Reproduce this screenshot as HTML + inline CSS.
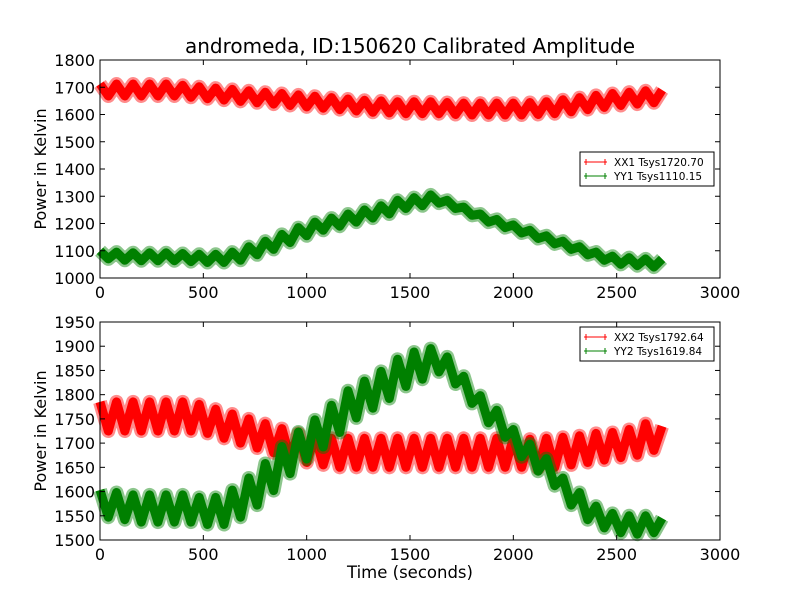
<!DOCTYPE html>
<html><head><meta charset="utf-8"><style>
body{margin:0;background:#fff;}
svg{display:block;font-family:"DejaVu Sans","Liberation Sans",sans-serif;}
</style></head><body>
<svg id="chart" width="800" height="600" viewBox="0 0 800 600">
<rect width="800" height="600" fill="#fff"/>
<text x="410" y="53" font-size="20" text-anchor="middle">andromeda, ID:150620 Calibrated Amplitude</text>
<g id="top"></g>
<g id="bot"></g>
<text x="410" y="578" font-size="16.5" text-anchor="middle">Time (seconds)</text>
</svg>
<script>
const xTicks=[0,500,1000,1500,2000,2500,3000];
const topYTicks=[1000,1100,1200,1300,1400,1500,1600,1700,1800];
const botYTicks=[1500,1550,1600,1650,1700,1750,1800,1850,1900,1950];
const cyclePeriod=80;
const xx1Peaks=[1712,1712,1712,1712,1712,1707,1702,1697,1692,1687,1682,1677,1672,1667,1662,1657,1652,1650,1647,1647,1647,1644,1642,1642,1642,1642,1644,1647,1654,1662,1670,1677,1682,1687,1690];
const xx1Troughs=[1668,1668,1668,1668,1668,1663,1658,1653,1648,1643,1638,1633,1628,1623,1618,1613,1608,1606,1603,1603,1603,1600,1598,1598,1598,1598,1600,1603,1610,1618,1626,1633,1638,1643,1646];
const yy1Peaks=[1100,1095,1093,1093,1093,1090,1087,1087,1095,1115,1135,1160,1185,1205,1220,1235,1250,1265,1285,1295,1305,1285,1260,1235,1215,1195,1175,1155,1135,1115,1095,1080,1075,1070,1070];
const yy1Troughs=[1070,1065,1063,1063,1063,1060,1057,1057,1065,1085,1105,1130,1155,1175,1190,1205,1220,1235,1255,1265,1275,1255,1230,1205,1185,1165,1145,1125,1105,1085,1065,1050,1045,1040,1040];
const xx2Peaks=[1785,1785,1785,1785,1785,1785,1780,1770,1760,1750,1740,1730,1720,1715,1710,1710,1710,1710,1710,1710,1710,1710,1710,1710,1710,1710,1708,1710,1712,1715,1720,1722,1728,1740,1735];
const xx2Troughs=[1725,1725,1725,1725,1725,1725,1720,1710,1700,1690,1680,1670,1660,1655,1650,1650,1650,1650,1650,1650,1650,1650,1650,1650,1650,1650,1648,1650,1655,1660,1665,1670,1675,1685,1685];
const yy2Peaks=[1603,1598,1593,1593,1593,1593,1588,1588,1603,1628,1658,1693,1723,1748,1778,1808,1828,1848,1873,1888,1895,1878,1838,1798,1768,1728,1698,1668,1628,1598,1570,1555,1550,1550,1545];
const yy2Troughs=[1547,1542,1537,1537,1537,1537,1532,1532,1547,1572,1602,1637,1667,1692,1722,1752,1772,1792,1817,1832,1847,1822,1782,1742,1712,1672,1642,1612,1572,1542,1525,1515,1512,1515,1515];
const tMax=2720;

const NS="http://www.w3.org/2000/svg";
function mk(tag,attrs,parent){const e=document.createElementNS(NS,tag);for(const k in attrs)e.setAttribute(k,attrs[k]);parent.appendChild(e);return e;}

function panel(g,top,bottom,yMin,yMax,yTicks,series,legend,legendY){
  const L=100,R=720;
  const xs=v=>L+(v-0)/(3000-0)*(R-L);
  const ys=v=>bottom-(v-yMin)/(yMax-yMin)*(bottom-top);
  series.forEach(s=>{
    const pts=[];
    for(let i=0;i<s.peaks.length;i++){
      const t=i*cyclePeriod;
      if(t<=tMax)pts.push([t,s.peaks[i]]);
      const t2=t+cyclePeriod/2;
      if(t2<=tMax&&i<s.troughs.length)pts.push([t2,s.troughs[i]]);
    }
    const d=pts.map(p=>xs(p[0]).toFixed(1)+","+ys(p[1]).toFixed(1)).join(" ");
    const pl2=mk("polyline",{points:d,fill:"none",stroke:s.color,"stroke-width":14,"stroke-opacity":0.45,"stroke-linejoin":"round"},g);
    
    
    const pl=mk("polyline",{points:d,fill:"none",stroke:s.color,"stroke-width":9,"stroke-linejoin":"round"},g);
    
    
  });
  const frame=mk("rect",{x:L,y:top,width:R-L,height:bottom-top,fill:"none",stroke:"#000","stroke-width":1},g);
  
  
  xTicks.forEach(v=>{
    const x=xs(v);
    mk("line",{x1:x,y1:bottom,x2:x,y2:bottom-5,stroke:"#000"},g);
    mk("line",{x1:x,y1:top,x2:x,y2:top+5,stroke:"#000"},g);
    const t=mk("text",{x:x,y:bottom+20,"font-size":16,"text-anchor":"middle"},g);
    t.textContent=v;
    
    
  });
  yTicks.forEach(v=>{
    const y=ys(v);
    mk("line",{x1:L,y1:y,x2:L+5,y2:y,stroke:"#000"},g);
    mk("line",{x1:R,y1:y,x2:R-5,y2:y,stroke:"#000"},g);
    const t=mk("text",{x:L-5,y:y+6,"font-size":16,"text-anchor":"end"},g);
    t.textContent=v;
    
    
  });
  const yl=mk("text",{x:0,y:0,"font-size":16,"text-anchor":"middle",transform:`translate(46,${(top+bottom)/2}) rotate(-90)`},g);
  yl.textContent="Power in Kelvin";
  
  
  const lg=mk("g",{},g);
  
  
  mk("rect",{x:580,y:legendY,width:134,height:34,fill:"#fff",stroke:"#000"},lg);
  legend.forEach((e,i)=>{
    const y=legendY+10+i*14;
    const le=mk("g",{},lg);
    
    
    mk("line",{x1:584,y1:y,x2:607,y2:y,stroke:e.color},le);
    mk("line",{x1:586,y1:y-3,x2:586,y2:y+3,stroke:e.color},le);
    mk("line",{x1:605,y1:y-3,x2:605,y2:y+3,stroke:e.color},le);
    const t=mk("text",{x:614,y:y+4,"font-size":10.5},le);
    t.textContent=e.label;
  });
}
panel(document.getElementById("top"),60,278,1000,1800,topYTicks,
  [{name:"xx1",color:"#ff0000",peaks:xx1Peaks,troughs:xx1Troughs},{name:"yy1",color:"#008000",peaks:yy1Peaks,troughs:yy1Troughs}],
  [{color:"#ff0000",label:"XX1 Tsys1720.70"},{color:"#008000",label:"YY1 Tsys1110.15"}],152);
panel(document.getElementById("bot"),322,540,1500,1950,botYTicks,
  [{name:"xx2",color:"#ff0000",peaks:xx2Peaks,troughs:xx2Troughs},{name:"yy2",color:"#008000",peaks:yy2Peaks,troughs:yy2Troughs}],
  [{color:"#ff0000",label:"XX2 Tsys1792.64"},{color:"#008000",label:"YY2 Tsys1619.84"}],327);
</script>
</body></html>
